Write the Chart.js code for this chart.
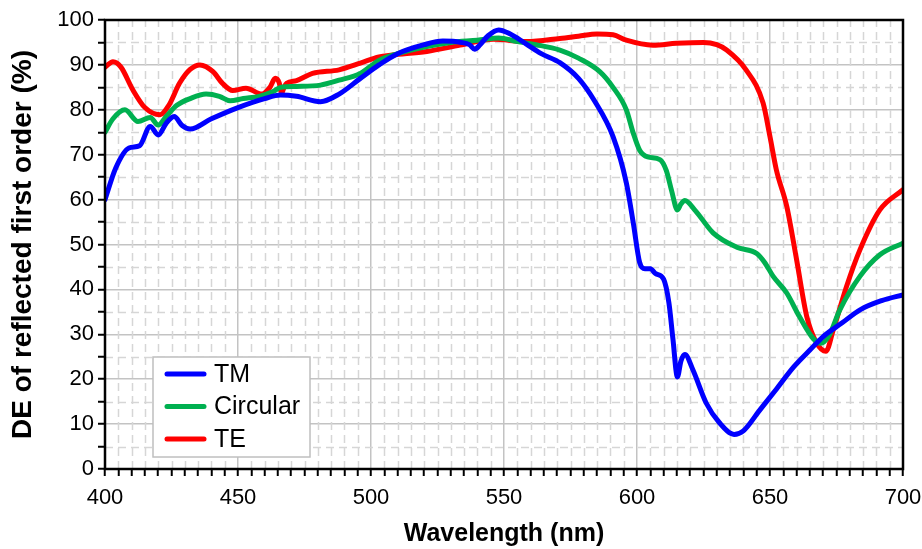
<!DOCTYPE html>
<html>
<head>
<meta charset="utf-8">
<script src="https://cdn.jsdelivr.net/npm/chart.js@4.4.1/dist/chart.umd.min.js"></script>
<style>
  html, body { margin: 0; padding: 0; background: #fff; }
  #wrap { width: 922px; height: 549px; }
</style>
</head>
<body>
<div id="wrap"><canvas id="grafico" width="922" height="549"></canvas></div>
<script>
// values
const tmWl = [400, 404, 409, 413, 417, 420, 423, 426, 429, 432, 440, 450, 460, 466, 472, 481, 488, 496, 503, 510, 520, 527, 534, 537, 539, 541, 544, 548, 552, 558, 564, 571, 578, 584, 591, 596, 598.6, 601, 603, 605, 607, 610, 612, 613.5, 615.2, 616.5, 618, 621, 626, 631, 636.5, 640, 646, 652, 659, 665, 670, 677, 684, 692, 700];
const tmVal = [60, 67, 71.5, 72, 76.3, 74.4, 77, 78.5, 76.5, 75.7, 78, 80.5, 82.5, 83.3, 83, 81.8, 83.5, 87, 90, 92.5, 94.5, 95.3, 95, 94.5, 93.5, 94.5, 96.5, 97.8, 97, 94.8, 92.5, 90.5, 87, 82, 74, 63.7, 54.8, 46, 44.6, 44.6, 43.5, 42.3, 37, 29, 20.5, 24, 25.5, 22.1, 14.7, 10.3, 7.7, 8.5, 13, 17.5, 22.8, 26.5, 29.5, 32.5, 35.5, 37.5, 38.8];

const circWl = [400, 403, 407.5, 412.4, 417, 420, 423, 427, 432, 438, 443, 447, 452, 458, 463, 466, 472, 481, 488, 496, 503, 510, 520, 530, 540, 548, 555, 562, 571, 578, 586, 591, 596, 598.6, 601, 604, 608.6, 611, 613, 615.2, 616.5, 618, 622, 628.6, 637.5, 645, 648, 651.2, 656.3, 661, 666.3, 669, 672, 676.3, 683.8, 691.3, 700];
const circVal = [75, 78, 80, 77.4, 78.3, 76.6, 78.5, 81, 82.5, 83.5, 83, 82, 82.5, 83, 84, 85, 85.2, 85.5, 86.6, 88.1, 91, 92.5, 94, 95, 95.5, 96, 95.2, 94.5, 93.3, 91.5, 88.5, 85, 80, 74.8, 71, 69.5, 68.9, 66.5, 62, 57.7, 59, 59.8, 57.5, 52.6, 49.4, 48, 46, 42.9, 39.2, 34, 29, 28, 29.5, 35.5, 42.9, 47.7, 50.3];

const teWl = [400, 403, 406, 410.5, 415, 420.7, 424, 428, 432, 435.7, 440.6, 444, 448, 453, 459, 462, 464, 465.5, 466.4, 467.3, 468.3, 472, 478, 488, 496, 503, 508, 521, 533.5, 546, 558.5, 571, 578, 585, 591, 596, 606, 614.8, 625, 630, 633.7, 641, 647.4, 650, 652.4, 656.3, 660, 663.8, 667.5, 671, 673.8, 678.8, 683.8, 691.3, 700];
const teVal = [89.5, 90.7, 89.5, 84.4, 80.5, 78.9, 81, 85.9, 89, 90, 88.5, 86, 84.3, 84.8, 83.5, 85, 87, 86, 83.7, 85, 85.9, 86.5, 88.1, 88.9, 90.4, 91.8, 92.2, 93, 94.4, 95.7, 95.2, 95.9, 96.4, 96.9, 96.7, 95.5, 94.4, 94.8, 95, 94.5, 93.3, 88.9, 81.5, 74, 66.6, 58.5, 46.6, 34, 28.1, 26.2, 31, 40.7, 48.8, 57.7, 62.2];

const serieNomes = ['TM', 'Circular', 'TE'];
const serieCores = ['#0000ff', '#00b050', '#ff0000'];

const xTicksMajor = [400, 450, 500, 550, 600, 650, 700];
const yTicksMajor = [0, 10, 20, 30, 40, 50, 60, 70, 80, 90, 100];

const fonte = "'Liberation Sans', Arial, sans-serif";

function pontos(wl, val) {
    return wl.map((w, i) => ({ x: w, y: val[i] }));
}

function montarSerie(i, wl, val) {
    return {
        label: serieNomes[i],
        data: pontos(wl, val),
        borderColor: serieCores[i],
        backgroundColor: serieCores[i],
        borderWidth: 5,
        pointRadius: 0,
        fill: false,
        cubicInterpolationMode: 'monotone',
        borderCapStyle: 'round',
        borderJoinStyle: 'round'
    };
}

// dashed minor grid + frame
const gradeMenor = {
    id: 'gradeMenor',
    beforeDatasetsDraw(chart) {
        const ctx = chart.ctx;
        const area = chart.chartArea;
        const x = chart.scales.x;
        const y = chart.scales.y;
        ctx.save();
        ctx.strokeStyle = '#d6d6d6';
        ctx.lineWidth = 1.5;
        ctx.setLineDash([8, 5]);
        x.ticks.forEach(t => {
            if (t.value % 50 === 0) return;
            const px = Math.round(x.getPixelForValue(t.value)) + 0.5;
            ctx.beginPath();
            ctx.moveTo(px, area.bottom);
            ctx.lineTo(px, area.top);
            ctx.stroke();
        });
        y.ticks.forEach(t => {
            if (t.value % 10 === 0) return;
            const py = Math.round(y.getPixelForValue(t.value)) + 0.5;
            ctx.beginPath();
            ctx.moveTo(area.left, py);
            ctx.lineTo(area.right, py);
            ctx.stroke();
        });
        ctx.restore();
    },
    afterDatasetsDraw(chart) {
        const ctx = chart.ctx;
        const area = chart.chartArea;
        ctx.save();
        ctx.strokeStyle = '#000';
        ctx.lineWidth = 2.5;
        ctx.strokeRect(area.left, area.top, area.right - area.left, area.bottom - area.top);
        ctx.restore();
    }
};

// legend box inside the plot, bottom-left
const legendaInterna = {
    id: 'legendaInterna',
    afterDraw(chart) {
        const ctx = chart.ctx;
        const bx = 153, by = 357, bw = 157, bh = 100;
        ctx.save();
        ctx.fillStyle = '#fff';
        ctx.fillRect(bx, by, bw, bh);
        ctx.strokeStyle = '#bfbfbf';
        ctx.lineWidth = 1.5;
        ctx.strokeRect(bx, by, bw, bh);
        ctx.font = '25px ' + fonte;
        ctx.textBaseline = 'middle';
        chart.data.datasets.forEach((ds, i) => {
            const cy = by + 17 + i * 32.5;
            ctx.strokeStyle = ds.borderColor;
            ctx.lineWidth = 5;
            ctx.lineCap = 'round';
            ctx.beginPath();
            ctx.moveTo(167, cy);
            ctx.lineTo(204, cy);
            ctx.stroke();
            ctx.fillStyle = '#000';
            ctx.fillText(ds.label, 214, cy + 1);
        });
        ctx.restore();
    }
};

const ctx = document.getElementById('grafico').getContext('2d');
new Chart(ctx, {
    type: 'line',
    data: {
        datasets: [
            montarSerie(0, tmWl, tmVal),
            montarSerie(1, circWl, circVal),
            montarSerie(2, teWl, teVal)
        ]
    },
    options: {
        responsive: false,
        animation: false,
        devicePixelRatio: 1,
        layout: { padding: { top: 20, right: 0, left: 0, bottom: 0 } },
        plugins: {
            legend: { display: false },
            tooltip: { enabled: false }
        },
        scales: {
            x: {
                type: 'linear',
                min: 400,
                max: 700,
                afterFit: s => { s.height = 80; s.paddingRight = 19; s.paddingLeft = 0; },
                ticks: {
                    stepSize: 5,
                    maxTicksLimit: 1000,
                    autoSkip: false,
                    maxRotation: 0,
                    padding: 9,
                    color: '#000',
                    font: { family: fonte, size: 22 },
                    callback: v => xTicksMajor.includes(v) ? String(v) : ''
                },
                grid: {
                    color: c => (c.tick && c.tick.value % 50 === 0) ? '#c3c3c3' : 'transparent',
                    lineWidth: 1.5,
                    tickColor: '#000',
                    tickLength: 7,
                    tickWidth: 2
                },
                border: { display: false },
                title: {
                    display: true,
                    text: 'Wavelength (nm)',
                    color: '#000',
                    font: { family: fonte, size: 25, weight: 'bold' },
                    padding: { top: 0, bottom: 0 }
                }
            },
            y: {
                min: 0,
                max: 100,
                afterFit: s => { s.width = 105; },
                ticks: {
                    stepSize: 5,
                    maxTicksLimit: 1000,
                    autoSkip: false,
                    padding: 4,
                    color: '#000',
                    font: { family: fonte, size: 22 },
                    callback: v => yTicksMajor.includes(v) ? String(v) : ''
                },
                grid: {
                    color: c => (c.tick && c.tick.value % 10 === 0) ? '#c3c3c3' : 'transparent',
                    lineWidth: 1.5,
                    tickColor: '#000',
                    tickLength: 7,
                    tickWidth: 2
                },
                border: { display: false },
                title: {
                    display: true,
                    text: 'DE of reflected first order (%)',
                    color: '#000',
                    font: { family: fonte, size: 28, weight: 'bold' },
                    padding: { top: 6, bottom: 4 }
                }
            }
        }
    },
    plugins: [gradeMenor, legendaInterna]
});
</script>
</body>
</html>
